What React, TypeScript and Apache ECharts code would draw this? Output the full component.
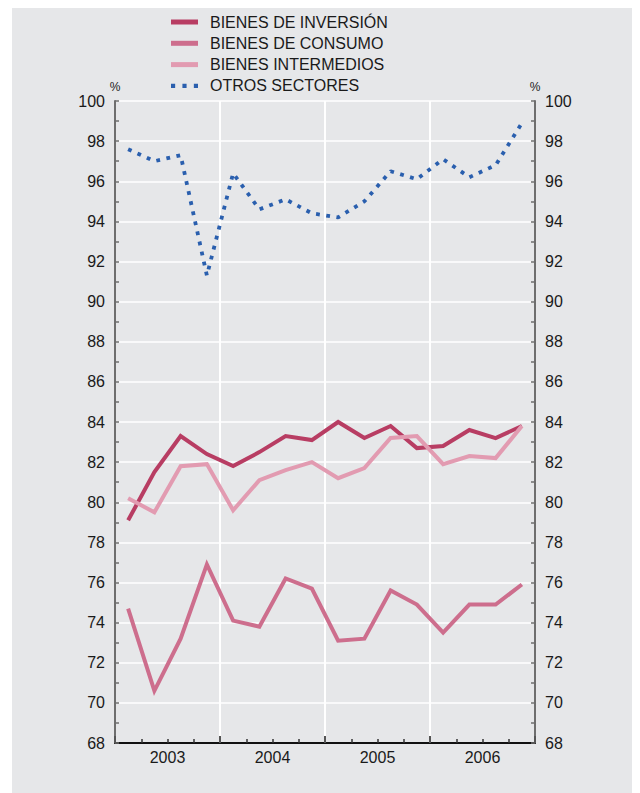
import React, { useEffect, useRef } from "react";
import * as echarts from "echarts";

const quarters = [
  "2003T1", "2003T2", "2003T3", "2003T4",
  "2004T1", "2004T2", "2004T3", "2004T4",
  "2005T1", "2005T2", "2005T3", "2005T4",
  "2006T1", "2006T2", "2006T3", "2006T4",
];
const years = ["2003", "2004", "2005", "2006"];

const inversion = [79.1, 81.5, 83.3, 82.4, 81.8, 82.5, 83.3, 83.1, 84.0, 83.2, 83.8, 82.7, 82.8, 83.6, 83.2, 83.8];
const consumo = [74.7, 70.6, 73.2, 76.9, 74.1, 73.8, 76.2, 75.7, 73.1, 73.2, 75.6, 74.9, 73.5, 74.9, 74.9, 75.9];
const intermedios = [80.2, 79.5, 81.8, 81.9, 79.6, 81.1, 81.6, 82.0, 81.2, 81.7, 83.2, 83.3, 81.9, 82.3, 82.2, 83.8];
const otros = [97.6, 97.0, 97.3, 91.3, 96.4, 94.6, 95.1, 94.4, 94.2, 95.0, 96.5, 96.1, 97.1, 96.2, 96.8, 98.9];

const seriesNames = ["BIENES DE INVERSIÓN", "BIENES DE CONSUMO", "BIENES INTERMEDIOS", "OTROS SECTORES"];
const colors = ["#b83d63", "#cd6e8d", "#e29bb1", "#2a5fae"];

const FONT = "'Liberation Sans', Arial, Helvetica, sans-serif";

export default function App() {
  const ref = useRef<HTMLDivElement>(null);
  useEffect(() => {
    if (!ref.current) return;
    const chart = echarts.init(ref.current, undefined, { renderer: "svg" });
    const yAxisCommon = {
      type: "value",
      min: 68,
      max: 100,
      interval: 2,
      name: "%",
      nameLocation: "end",
      nameGap: 5,
      nameTextStyle: { fontFamily: FONT, fontSize: 12, color: "#222", align: "center" },
      axisLine: { show: true, lineStyle: { color: "#6e6e6e", width: 2 } },
      axisTick: { show: true, inside: true, length: 4, lineStyle: { color: "#6e6e6e", width: 1.5 } },
      minorTick: { show: true, splitNumber: 2, length: 4, lineStyle: { color: "#6e6e6e", width: 1.5 } },
      axisLabel: { fontFamily: FONT, fontSize: 16, color: "#1a1a1a", margin: 10 },
    };
    const option = {
      animation: false,
      backgroundColor: "transparent",
      legend: {
        orient: "vertical",
        left: 154,
        top: 1,
        itemWidth: 27,
        itemHeight: 5,
        itemGap: 5.3,
        textStyle: { fontFamily: FONT, fontSize: 16, color: "#1a1a1a", lineHeight: 16, padding: [0, 0, 0, 7] },
        data: [
          { name: seriesNames[0], icon: "rect" },
          { name: seriesNames[1], icon: "rect" },
          { name: seriesNames[2], icon: "rect" },
          { name: seriesNames[3], icon: "path://M0,0h4v4h-4z M11,0h4v4h-4z M22,0h4v4h-4z" },
        ],
      },
      grid: { left: 103, right: 105, top: 93, bottom: 50, containLabel: false },
      xAxis: [
        {
          type: "category",
          data: quarters,
          boundaryGap: true,
          axisLine: { show: true, lineStyle: { color: "#111", width: 2 } },
          axisTick: { show: true, inside: true, interval: 0, length: 4, lineStyle: { color: "#333", width: 1.5 } },
          axisLabel: { show: false },
          splitLine: { show: true, interval: 3, lineStyle: { color: "#ffffff", width: 2 } },
        },
        {
          type: "category",
          data: years,
          position: "bottom",
          boundaryGap: true,
          axisLine: { show: false },
          axisTick: { show: true, inside: true, length: 7, lineStyle: { color: "#555", width: 2 } },
          axisLabel: { fontFamily: FONT, fontSize: 16, color: "#1a1a1a", margin: 6 },
          splitLine: { show: false },
        },
      ],
      yAxis: [
        {
          ...yAxisCommon,
          position: "left",
          splitLine: { show: true, lineStyle: { color: "#ffffff", width: 1.5 } },
        },
        {
          ...yAxisCommon,
          position: "right",
          splitLine: { show: false },
        },
      ],
      series: [
        { name: seriesNames[0], data: inversion, color: colors[0] },
        { name: seriesNames[1], data: consumo, color: colors[1] },
        { name: seriesNames[2], data: intermedios, color: colors[2] },
        { name: seriesNames[3], data: otros, color: colors[3], dotted: true },
      ].map((s) => ({
        type: "line",
        name: s.name,
        data: s.data,
        xAxisIndex: 0,
        yAxisIndex: 0,
        symbol: "none",
        itemStyle: { color: s.color },
        lineStyle: s.dotted
          ? { color: s.color, width: 3.8, type: [3.8, 6.5], cap: "butt" }
          : { color: s.color, width: 4, join: "miter" },
      })),
    };
    chart.setOption(option as any);
    return () => chart.dispose();
  }, []);
  return (
    <div style={{ marginLeft: 4, width: 628, height: 785, background: "#e6e7e9" }}>
      <div ref={ref} style={{ width: 628, height: 785 }} />
    </div>
  );
}
